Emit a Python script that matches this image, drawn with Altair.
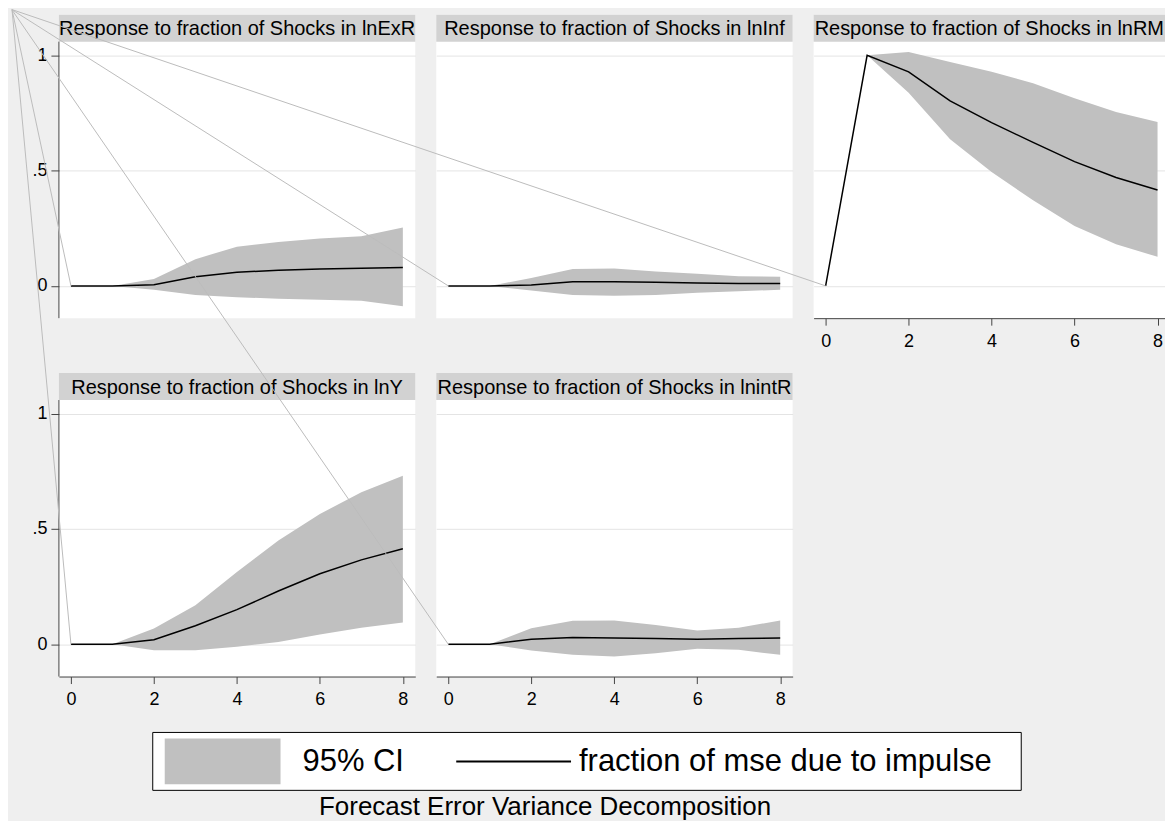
import altair as alt
import pandas as pd

# ---------------- data ----------------
periods = [0, 1, 2, 3, 4, 5, 6, 7, 8]

panel_titles = [
    "Response to fraction of Shocks in lnExR",
    "Response to fraction of Shocks in lnInf",
    "Response to fraction of Shocks in lnRM",
    "Response to fraction of Shocks in lnY",
    "Response to fraction of Shocks in lnintR",
]

exr_fevd = [0, 0, 0.005, 0.040, 0.059, 0.068, 0.073, 0.076, 0.080]
exr_lo = [0, 0, -0.017, -0.039, -0.049, -0.056, -0.060, -0.065, -0.088]
exr_hi = [0, 0, 0.030, 0.116, 0.170, 0.190, 0.205, 0.215, 0.253]

inf_fevd = [0, 0, 0.004, 0.018, 0.018, 0.016, 0.013, 0.010, 0.010]
inf_lo = [0, 0, -0.020, -0.039, -0.043, -0.039, -0.030, -0.023, -0.017]
inf_hi = [0, 0, 0.034, 0.073, 0.075, 0.062, 0.053, 0.042, 0.040]

rm_fevd = [0, 1, 0.928, 0.802, 0.708, 0.622, 0.539, 0.470, 0.416]
rm_lo = [0, 1, 0.838, 0.636, 0.494, 0.371, 0.260, 0.181, 0.126]
rm_hi = [0, 1, 1.014, 0.971, 0.929, 0.879, 0.814, 0.754, 0.711]

y_fevd = [0, 0, 0.020, 0.080, 0.150, 0.231, 0.306, 0.366, 0.414]
y_lo = [0, 0, -0.026, -0.026, -0.011, 0.010, 0.042, 0.072, 0.094]
y_hi = [0, 0, 0.068, 0.169, 0.313, 0.450, 0.565, 0.659, 0.731]

intr_fevd = [0, 0, 0.022, 0.029, 0.027, 0.025, 0.022, 0.025, 0.027]
intr_lo = [0, 0, -0.027, -0.046, -0.053, -0.039, -0.020, -0.024, -0.046]
intr_hi = [0, 0, 0.069, 0.102, 0.103, 0.083, 0.060, 0.072, 0.103]

# stray grey lines of the original export: each runs from a panel's (0, 0)
# to the top-left corner of the graph, expressed in that panel's data units
stray_x = [-1.42, -10.52, -19.61, -1.42, -10.52]
stray_y = [1.198, 1.198, 1.198, 2.752, 2.752]

x_ticks = [0, 2, 4, 6, 8]
y_ticks = [0, 0.5, 1]
legend_labels = ["95% CI", "fraction of mse due to impulse"]
footer_text = ["Forecast Error Variance Decomposition"]

# ---------------- styling ----------------
FONT = "Liberation Sans"
BG = "#efefef"
HEADER = "#d2d2d2"
CI = "#c0c0c0"
AXIS = "#444444"
GRID = "#e4e4e4"
STRAY = "#bcbcbc"

W, H, HEAD_H = 357, 304, 27
X_DOMAIN = [-0.29, 8.30]
Y_DOMAIN = [-0.14, 1.176]


def panel(idx, fevd, lo, hi, show_y, show_x, width=W, x_domain=X_DOMAIN):
    df = pd.DataFrame({"step": periods, "fevd": fevd, "lo": lo, "hi": hi})
    xs = alt.Scale(domain=x_domain, nice=False, zero=False)
    ys = alt.Scale(domain=Y_DOMAIN, nice=False, zero=False)

    if show_x:
        x_axis = alt.Axis(values=x_ticks, grid=False, domainColor=AXIS, domainWidth=1,
                          tickColor=AXIS, tickSize=7, labelFontSize=18, labelPadding=7,
                          labelColor="black", labelFont=FONT, format="d", title=None)
    else:
        x_axis = None
    y_axis = alt.Axis(values=y_ticks, grid=True, gridColor=GRID, gridWidth=1, domain=False,
                      ticks=show_y, labels=show_y, tickColor=AXIS, tickSize=8,
                      labelFontSize=18, labelPadding=4, labelColor="black", labelFont=FONT,
                      labelExpr="datum.value == 0 ? '0' : (datum.value == 1 ? '1' : '.5')",
                      title=None)

    def xe(field):
        return alt.X(field, type="quantitative", scale=xs, axis=x_axis, title=None)

    def ye(field):
        return alt.Y(field, type="quantitative", scale=ys, axis=y_axis, title=None)

    head_df = pd.DataFrame({"title": [panel_titles[idx]]})
    header = alt.Chart(head_df).mark_rect(color=HEADER).encode(
        x=alt.value(0), x2=alt.value(width), y=alt.value(0), y2=alt.value(HEAD_H))
    header_txt = alt.Chart(head_df).mark_text(
        font=FONT, fontSize=20, color="black", align="center", baseline="alphabetic"
    ).encode(x=alt.value(width / 2), y=alt.value(20.5), text="title:N")

    band = alt.Chart(df).mark_area(color=CI, opacity=1).encode(
        x=xe("step"), y=ye("hi"), y2="lo")
    line = alt.Chart(df).mark_line(color="black", strokeWidth=1.5).encode(
        x=xe("step"), y=ye("fevd"))

    stray_df = pd.DataFrame({"x0": [0], "y0": [0], "x1": [stray_x[idx]], "y1": [stray_y[idx]]})
    stray = alt.Chart(stray_df).mark_rule(color=STRAY, strokeWidth=1).encode(
        x=xe("x0"), x2="x1", y=ye("y0"), y2="y1")

    layers = [header, header_txt, band, line]
    if show_y:
        yline = alt.Chart(head_df).mark_rule(color=AXIS, strokeWidth=1).encode(
            x=alt.value(0), y=alt.value(HEAD_H), y2=alt.value(H))
        layers.append(yline)
    layers.append(stray)
    return alt.layer(*layers).properties(
        width=width, height=H, view=alt.ViewBackground(fill="white", strokeWidth=0))


p1 = panel(0, exr_fevd, exr_lo, exr_hi, True, False)
p2 = panel(1, inf_fevd, inf_lo, inf_hi, False, False)
p3 = panel(2, rm_fevd, rm_lo, rm_hi, False, True, width=352, x_domain=[-0.29, 8.18])
p4 = panel(3, y_fevd, y_lo, y_hi, True, True)
p5 = panel(4, intr_fevd, intr_lo, intr_hi, False, True)

one = pd.DataFrame({"k": [0]})

# empty cell of the 3x2 grid
spacer = alt.Chart(one).mark_text(text="").encode(
    x=alt.value(0), y=alt.value(0)
).properties(width=300, height=H, view=alt.ViewBackground(fill=BG, strokeWidth=0))

# ---------------- legend + footer ----------------
box = alt.Chart(one).mark_rect(fill="white", stroke="black", strokeWidth=1).encode(
    x=alt.value(94), x2=alt.value(964), y=alt.value(1), y2=alt.value(59))
swatch = alt.Chart(one).mark_rect(fill=CI).encode(
    x=alt.value(106), x2=alt.value(222), y=alt.value(7), y2=alt.value(53))
lab_df = pd.DataFrame({"label": legend_labels, "xpos": [244, 521]})
labels = alt.Chart(lab_df).mark_text(
    font=FONT, fontSize=31, color="black", align="left", baseline="middle"
).encode(x=alt.X("xpos:Q", scale=None), y=alt.value(31), text="label:N")
key_line = alt.Chart(one).mark_rule(color="black", strokeWidth=2).encode(
    x=alt.value(398), x2=alt.value(513), y=alt.value(30))
foot_df = pd.DataFrame({"t": footer_text})
footer = alt.Chart(foot_df).mark_text(
    font=FONT, fontSize=26, color="black", align="center", baseline="middle"
).encode(x=alt.value(487), y=alt.value(76), text="t:N")

legend = alt.layer(box, swatch, labels, key_line, footer).properties(
    width=300, height=58, view=alt.ViewBackground(fill=BG, strokeWidth=0))

chart = alt.concat(p1, p2, p3, p4, p5, spacer, legend, columns=3, bounds="flush",
                   spacing={"row": 55, "column": 21}).properties(
    background=BG, padding={"left": 3, "top": 0, "right": 0, "bottom": 0}
).configure_view(strokeWidth=0).configure(font=FONT)

chart.save("out.html", embed_options={"renderer": "svg", "actions": False})
